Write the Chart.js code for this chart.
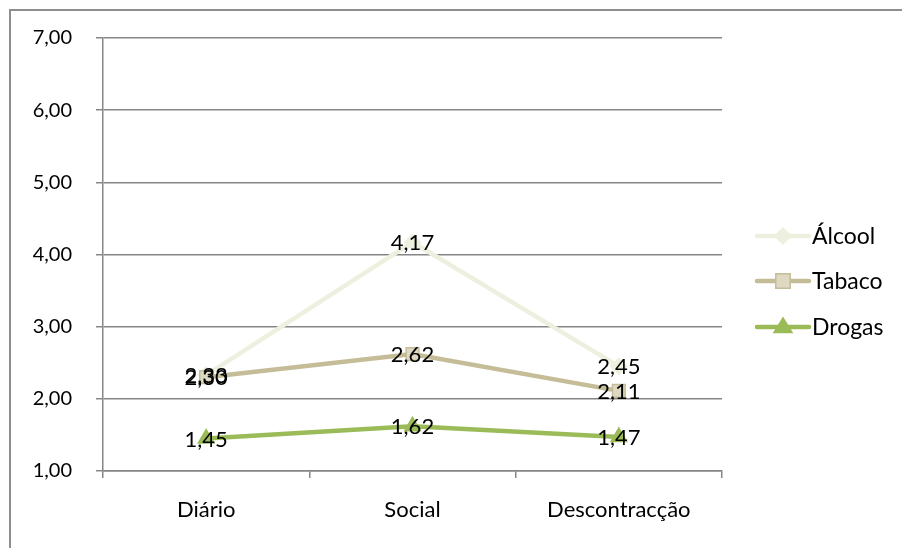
<!DOCTYPE html>
<html>
<head>
<meta charset="utf-8">
<script src="https://cdn.jsdelivr.net/npm/chart.js@4"></script>
<style>
  html, body { margin: 0; padding: 0; background: #fff; overflow: hidden; }
  #wrap { position: relative; width: 902px; height: 548px; }
  #frame { position: absolute; left: 9px; top: 9px; width: 1000px; height: 1000px;
           border-top: 2px solid #8e8e8e; border-left: 2px solid #8e8e8e; }
  #chart { position: absolute; left: 0; top: 0; }
</style>
</head>
<body>
<div id="wrap">
  <div id="frame"></div>
  <canvas id="chart" width="902" height="548"></canvas>
</div>
<script>
const categories = ['Diário', 'Social', 'Descontracção'];
const seriesNames = ['Álcool', 'Tabaco', 'Drogas'];
const alcool = [2.33, 4.17, 2.45];
const tabaco = [2.30, 2.62, 2.11];
const drogas = [1.45, 1.62, 1.47];
const yTicks = [1, 2, 3, 4, 5, 6, 7];

const FONT = 'Lato, "Open Sans", sans-serif';
const fmt = v => v.toFixed(2).replace('.', ',');

const styles = [
    { line: '#EEF0DF', fill: '#EEF0DF', border: '#EEF0DF', shape: 'rectRot', size: 8, order: 3 },
    { line: '#C4BD97', fill: '#DDD9C3', border: '#C4BD97', shape: 'rect', size: 9, order: 2 },
    { line: '#9BBB59', fill: '#9BBB59', border: '#9BBB59', shape: 'triangle', size: 9, order: 1 }
];

const datasets = [alcool, tabaco, drogas].map((vals, i) => ({
    label: seriesNames[i],
    data: vals,
    borderColor: styles[i].line,
    backgroundColor: styles[i].fill,
    pointBackgroundColor: styles[i].fill,
    pointBorderColor: styles[i].border,
    pointBorderWidth: 1.5,
    pointStyle: styles[i].shape,
    pointRadius: styles[i].size,
    borderWidth: 4.5,
    tension: 0,
    order: styles[i].order
}));

const labelPlugin = {
    id: 'valueLabels',
    afterDatasetsDraw(chart) {
        const ctx = chart.ctx;
        ctx.save();
        ctx.font = '22px ' + FONT;
        ctx.fillStyle = '#000';
        ctx.textAlign = 'center';
        ctx.textBaseline = 'middle';
        chart.data.datasets.forEach((ds, i) => {
            chart.getDatasetMeta(i).data.forEach((pt, j) => {
                ctx.fillText(fmt(ds.data[j]), pt.x, pt.y + 1);
            });
        });
        ctx.restore();
    }
};

const legendPlugin = {
    id: 'sideLegend',
    afterDraw(chart) {
        const ctx = chart.ctx;
        const ys = [236, 281, 327];
        ctx.save();
        chart.data.datasets.forEach((ds, i) => {
            const y = ys[i];
            const r = styles[i].size;
            ctx.strokeStyle = styles[i].line;
            ctx.lineWidth = 4.5;
            ctx.lineCap = 'round';
            ctx.beginPath();
            ctx.moveTo(757, y);
            ctx.lineTo(809, y);
            ctx.stroke();
            ctx.fillStyle = styles[i].fill;
            ctx.strokeStyle = styles[i].border;
            ctx.lineWidth = 1.5;
            ctx.beginPath();
            if (styles[i].shape === 'rectRot') {
                ctx.moveTo(783, y - r); ctx.lineTo(783 + r, y); ctx.lineTo(783, y + r); ctx.lineTo(783 - r, y);
            } else if (styles[i].shape === 'rect') {
                ctx.rect(783 - r * 0.8, y - r * 0.8, r * 1.6, r * 1.6);
            } else {
                ctx.moveTo(783, y - r); ctx.lineTo(783 + r, y + r * 0.6); ctx.lineTo(783 - r, y + r * 0.6);
            }
            ctx.closePath();
            ctx.fill();
            ctx.stroke();
            ctx.fillStyle = '#000';
            ctx.font = '23px ' + FONT;
            ctx.textAlign = 'left';
            ctx.textBaseline = 'middle';
            ctx.fillText(ds.label, 812, y + 1);
        });
        ctx.restore();
    }
};

new Chart(document.getElementById('chart'), {
    type: 'line',
    data: { labels: categories, datasets: datasets },
    options: {
        responsive: false,
        animation: false,
        layout: { padding: { left: 10, top: 38, right: 180, bottom: 0 } },
        plugins: { legend: { display: false }, tooltip: { enabled: false } },
        scales: {
            x: {
                offset: true,
                grid: { offset: true, drawOnChartArea: false, drawTicks: true, tickLength: 7, color: '#868686', lineWidth: 1.5 },
                border: { display: true, color: '#868686', width: 1.5 },
                ticks: { color: '#000', font: { family: FONT, size: 22 }, padding: 19, maxRotation: 0 },
                afterFit(scale) { scale.height = 77; }
            },
            y: {
                min: 1, max: 7,
                afterBuildTicks(scale) { scale.ticks = yTicks.map(v => ({ value: v })); },
                grid: { color: '#868686', lineWidth: 1.5, tickLength: 7 },
                border: { display: true, color: '#868686', width: 1.5 },
                ticks: { color: '#000', font: { family: FONT, size: 20 }, padding: 24, callback: v => fmt(v) },
                afterFit(scale) { scale.width = 93; }
            }
        }
    },
    plugins: [labelPlugin, legendPlugin]
});
</script>
</body>
</html>
